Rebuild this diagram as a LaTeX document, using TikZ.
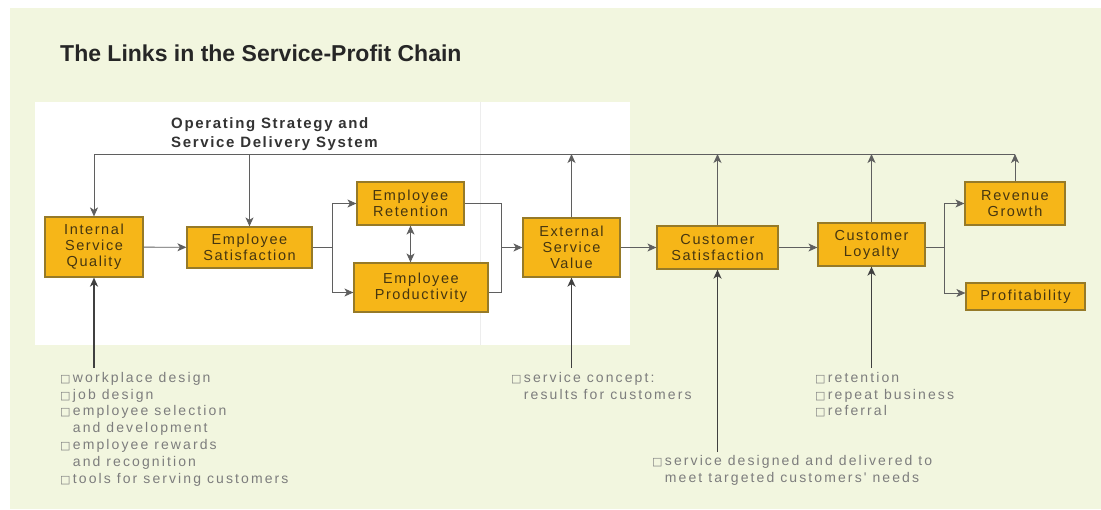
\documentclass[tikz,border=0pt]{standalone}
\usepackage{fontspec}
\setmainfont{Liberation Sans}
\newfontfamily\titlefont{Liberation Sans}
\newfontfamily\linkfont[LetterSpace=11]{Liberation Sans}
\newfontfamily\notefont[LetterSpace=15]{Liberation Sans}
\newfontfamily\symfont{DejaVu Sans}
\usetikzlibrary{arrows.meta}

\definecolor{chainbg}{RGB}{242,246,223}
\definecolor{boxfill}{RGB}{246,182,24}
\definecolor{boxedge}{RGB}{150,122,40}
\definecolor{boxtext}{RGB}{70,54,16}
\definecolor{wire}{RGB}{95,95,95}
\definecolor{notegray}{RGB}{125,125,125}

\newcommand\sq{{\symfont\fontsize{11}{11}\selectfont □}\,}
\newcommand\hang{\hphantom{\sq}}

\tikzset{
    link/.style={draw=boxedge, fill=boxfill, line width=1.2pt, align=center, text=boxtext,
        font=\linkfont\fontsize{14.5}{16}\selectfont, inner sep=0pt},
    flow/.style={draw=wire, line width=0.9pt, -{Stealth[length=9pt,width=8pt,inset=2.5pt]}},
    twoway/.style={flow, {Stealth[length=9pt,width=8pt,inset=2.5pt]}-{Stealth[length=9pt,width=8pt,inset=2.5pt]}},
    feed/.style={flow, draw=black!75, line width=1.5pt},
    note/.style={anchor=north west, align=left, inner sep=0pt, text=notegray,
        font=\notefont\fontsize{14}{16.8}\selectfont},
}

\begin{document}
\begin{tikzpicture}[x=1pt,y=-1pt]
    \fill[white] (0,0) rectangle (1101,509);
    \fill[chainbg] (10,8) rectangle (1101,509);
    \fill[white] (35,102) rectangle (630,345);
    \draw[black!7] (480,102) -- (480,345);

    \node[anchor=west, inner sep=0pt, text=black!85, font=\titlefont\bfseries\fontsize{23}{27}\selectfont] (title) at (60,53) {The Links in the Service-Profit Chain};
    \node[anchor=north west, align=left, inner sep=0pt, text=black!80, font=\linkfont\bfseries\fontsize{15}{19}\selectfont] (ops) at (171,117) {Operating Strategy and\\Service Delivery System};

    % the chain
    \node[link, minimum width=98, minimum height=60] (isq) at (94,247) {Internal\\Service\\Quality};
    \node[link, minimum width=125, minimum height=41] (es) at (249.5,247.5) {Employee\\Satisfaction};
    \node[link, minimum width=107, minimum height=43] (er) at (410.5,203.5) {Employee\\Retention};
    \node[link, minimum width=134, minimum height=49] (ep) at (421,287.5) {Employee\\Productivity};
    \node[link, minimum width=97, minimum height=59] (esv) at (571.5,247.5) {External\\Service\\Value};
    \node[link, minimum width=121, minimum height=43] (cs) at (717.5,247.5) {Customer\\Satisfaction};
    \node[link, minimum width=107, minimum height=43] (cl) at (871.5,244.5) {Customer\\Loyalty};
    \node[link, minimum width=100, minimum height=43] (rg) at (1015,203.5) {Revenue\\Growth};
    \node[link, minimum width=119, minimum height=27] (pr) at (1025.5,296.5) {Profitability};

    \coordinate (busL) at (94,154);
    \coordinate (busR) at (1015,154);
    \coordinate (split1) at (332,247.5);
    \coordinate (merge) at (501,247.5);
    \coordinate (split2) at (944,247.5);

    \draw[wire, line width=0.9pt] (busL) -- (busR);
    \draw[flow] (busL) -- (isq);
    \draw[flow] (es |- busL) -- (es);
    \foreach \n in {esv,cs,cl,rg}
        \draw[flow] (\n) -- (\n |- busL);

    \draw[flow] (isq) -- (es);
    \draw[flow] (es) -- (split1) |- (er.west);
    \draw[flow] (split1) |- ([yshift=-5pt]ep.west);
    \draw[twoway] (er.south) -- (er.south |- ep.north);
    \draw[wire, line width=0.9pt] (er.east) -| (merge);
    \draw[wire, line width=0.9pt] ([yshift=-5pt]ep.east) -| (merge);
    \draw[flow] (merge) -- (esv);
    \draw[flow] (esv) -- (cs);
    \draw[flow] (cs) -- (cs -| cl.west);
    \draw[flow] (cl.east |- split2) -- (split2) |- (rg.west);
    \draw[flow] (split2) |- ([yshift=3.5pt]pr.west);

    % what feeds each link
    \coordinate (isqin) at (94,368);
    \coordinate (esvin) at (571.5,368);
    \coordinate (csin) at (717.5,452);
    \coordinate (clin) at (871.5,368);
    \foreach \n in {isq,esv,cs,cl}
        \draw[feed] (\n in) -- (\n);

    \node[note] (isqnote) at (60,372) {\sq workplace design\\\sq job design\\\sq employee selection\\\hang and development\\\sq employee rewards\\\hang and recognition\\\sq tools for serving customers};
    \node[note] (esvnote) at (511,372) {\sq service concept:\\\hang results for customers};
    \node[note] (csnote) at (652,455) {\sq service designed and delivered to\\\hang meet targeted customers' needs};
    \node[note] (clnote) at (815,372) {\sq retention\\\sq repeat business\\\sq referral};
\end{tikzpicture}
\end{document}
